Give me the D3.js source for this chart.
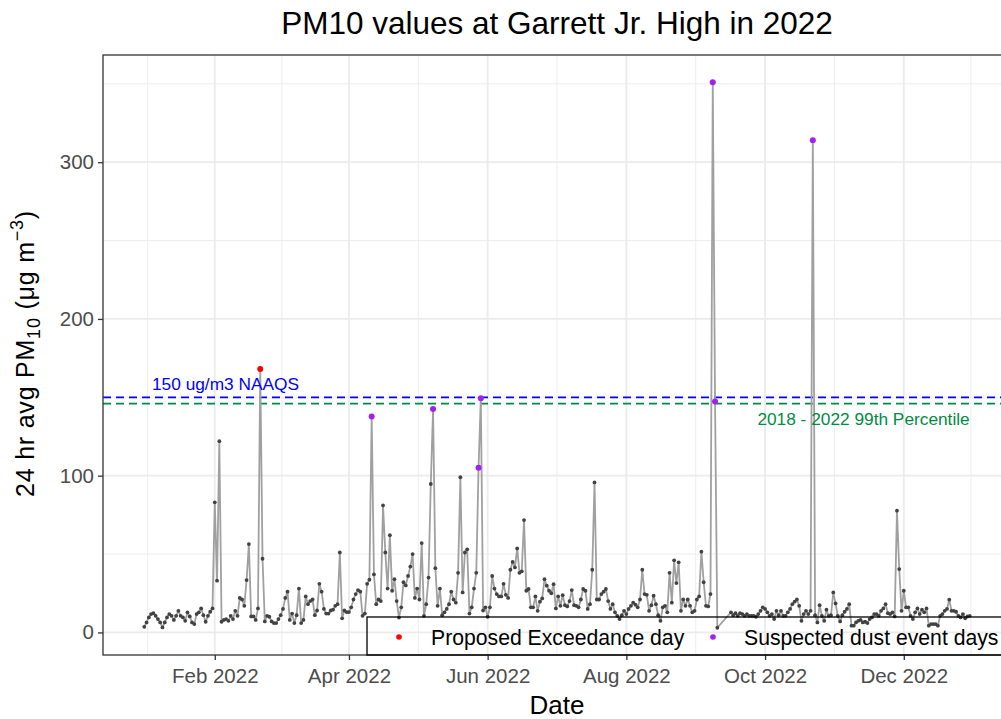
<!DOCTYPE html>
<html>
<head>
<meta charset="utf-8">
<script src="https://cdn.jsdelivr.net/npm/d3@7"></script>
<style>
  html, body { margin: 0; padding: 0; background: #ffffff; }
  svg { display: block; font-family: "Liberation Sans", Arial, sans-serif; }
</style>
</head>
<body>
<svg id="chart" width="1001" height="719"></svg>
<script>
// Daily 24-hr average PM10 (ug/m3) at Garrett Jr. High, 1 Jan 2022 .. 31 Dec 2022
// (null = no valid sample that day)
const startDate = "2022-01-01";
const pm10 = [
  // Jan
  3.6, 6.4, 9.6, 11.7, 12.3, 10.6, 8.5, 6.4, 3.2, 6.4, 9.6, 11.7, 10.6, 8, 10.6, 13.8,
  10.6, 9.6, 7.4, 12.8, 10.2, 6.4, 5.3, 11.7, 12.8, 15.3, 11, 6.8, 10.6, 13.2, 15.3,
  // Feb
  83, 33, 122, 6.8, 8, 8.5, 7.4, 10.6, 8.5, 13.8, 10.6, 22, 21, 17, 33.4, 56.4, 10.2,
  10.2, 8, 15.3, 168, 47, 7, 10.6, 10, 7, 6, 6,
  // Mar
  8.5, 11, 15, 22, 26, 8, 12, 6, 11, 28, 6, 8, 23, 18, 20, 21, 11, 14, 31, 26, 15, 12,
  12, 14, 14.5, 17, 18, 51, 9, 14, 13,
  // Apr
  13, 16, 21, 24.5, 27, 26, 10.6, 12, 31, 33.6, 137.7, 37, 18, 21, 20, 81, 51, 28, 62,
  26.6, 34, 20, 9.5, 16, 32, 30, 36, 42, 50, 22,
  // May
  28, 21, 57, 10.6, 18, 35, 94.7, 142.5, 41, 17, 28, 11, 12.8, 15, 18, 26, 21, 19, 38,
  99, 25.5, 51, 53, 12, 16, 28, 38, 105, 149.4, 14, 16,
  // Jun
  10, 16, 36, 28, 24.5, 23, 23, 31, 24, 22, 40, 45, 41.5, 53.6, 38, 39, 71.7, 26.6, 27.7,
  16, 16, 23, 13.8, 19.6, 21.7, 34, 29.8, 26.6, 25, 30.8,
  // Jul
  15.3, 23, 17, 23.8, 17.4, 16.6, 20, 27, 17.4, 17, 16, 21, 27.7, 26.6, 15, 18, 40, 95.7,
  21, 21, 24.5, 26, 27.7, 20, 15, 18, 12.8, 10.6, 8.5, 11, 13.8,
  // Aug
  11.7, 15, 17, 19, 17.7, 16, 21, 40, 24.5, 24, 13.8, 17.4, 23.4, 18, 11, 7.4, 16, 17,
  12.8, 38, 19, 46, 31.5, 44.7, 13.8, 21, 17, 21, 17, 12.8, 13.8,
  // Sep
  21, 23, 51.5, 32, 17, 16.6, 24.5, 351, 147.4, 3, null, null, null, null, null, 12.8,
  11, 12.3, 10.6, 12.3, 11.7, 10.6, 11.7, 10.6, 10.6, 10.6, 10, 11.7, 13.8, 16,
  // Oct
  15, 12.8, 10.6, 11.7, 8.5, 13.8, 11, 13.8, 10.6, 10.6, 12.8, 15, 18, 19.6, 21, 17, 7.4,
  11.7, 13.8, 11.7, 13.8, 314, 11, 6.4, 17.4, 10.6, 7.4, 14.5, 10.6, 11, 25.5,
  // Nov
  18.5, 10.6, 7, 11, 13.2, 15, 18, 4.3, 4.3, 6.4, 7.4, 8, 6.4, 6.8, 6, 8.5, 9.6, 11.7,
  11.7, 10.6, 13.8, 15.3, 18, 12.3, 11.7, 12.8, 10.2, 77.7, 40.4, 13.8,
  // Dec
  26.6, 16, 16, 10.6, 8.5, 12.8, 15.3, 11.7, 14.5, 12.8, 15.3, 4.3, 5.3, 5.3, 5.3, 4.3,
  10.6, 11.7, 13.8, 15, 20.9, 13.8, 13.8, 13.2, 10.6, 9.6, 11.7, 9, 10.2, 10.6
];

// Flagged days
const exceedanceDays = ["2022-02-21"];
const dustEventDays = ["2022-04-11", "2022-05-08", "2022-05-28", "2022-05-29",
                       "2022-09-08", "2022-09-09", "2022-10-22"];

// Reference levels
const naaqsLevel = 150;
const percentile99 = 146;

// Axis breaks and labels
const xTickDates = ["2022-02-01", "2022-04-01", "2022-06-01", "2022-08-01", "2022-10-01", "2022-12-01"];
const xTickLabels = ["Feb 2022", "Apr 2022", "Jun 2022", "Aug 2022", "Oct 2022", "Dec 2022"];
const yTicks = [0, 100, 200, 300];

const legendLabels = ["Proposed Exceedance day", "Suspected dust event days"];

// ---------------------------------------------------------------
const parse = d3.utcParse("%Y-%m-%d");
const DAY = 864e5;
const t0 = parse(startDate);
const rows = pm10
  .map((v, i) => ({ date: new Date(t0.getTime() + i * DAY), value: v }))
  .filter(d => d.value != null);
const key = d => d3.utcFormat("%Y-%m-%d")(d);
const exSet = new Set(exceedanceDays);
const dustSet = new Set(dustEventDays);

const svg = d3.select("#chart");
const panel = { left: 103, right: 1011, top: 55, bottom: 655 };

// 5% expansion on both axes
const xExt = [t0, new Date(t0.getTime() + (pm10.length - 1) * DAY)];
const xPad = (xExt[1] - xExt[0]) * 0.05;
const x = d3.scaleUtc()
  .domain([new Date(xExt[0] - xPad), new Date(+xExt[1] + xPad)])
  .range([panel.left, panel.right]);

const yExt = d3.extent(rows, d => d.value);
const yPad = (yExt[1] - yExt[0]) * 0.05;
const y = d3.scaleLinear()
  .domain([yExt[0] - yPad, yExt[1] + yPad])
  .range([panel.bottom, panel.top]);

// Title
svg.append("text")
  .attr("x", (panel.left + panel.right) / 2).attr("y", 34)
  .attr("text-anchor", "middle")
  .attr("font-size", 31.5).attr("fill", "#000")
  .text("PM10 values at Garrett Jr. High in 2022");

// Clip to panel
svg.append("defs").append("clipPath").attr("id", "panelClip")
  .append("rect")
  .attr("x", panel.left).attr("y", panel.top)
  .attr("width", panel.right - panel.left).attr("height", panel.bottom - panel.top);

const g = svg.append("g").attr("clip-path", "url(#panelClip)");

// Grid: minor then major
const majorX = xTickDates.map(parse);
const step = majorX[1] - majorX[0];
const ext = [new Date(majorX[0] - step), ...majorX, new Date(+majorX[majorX.length - 1] + step)];
const minorX = d3.pairs(ext).map(([a, b]) => new Date((+a + +b) / 2));
const minorY = yTicks.map(v => v + 50);

g.selectAll(".minx").data(minorX).join("line")
  .attr("x1", d => x(d)).attr("x2", d => x(d))
  .attr("y1", panel.top).attr("y2", panel.bottom)
  .attr("stroke", "#ebebeb").attr("stroke-width", 0.9);
g.selectAll(".miny").data(minorY).join("line")
  .attr("x1", panel.left).attr("x2", panel.right)
  .attr("y1", d => y(d)).attr("y2", d => y(d))
  .attr("stroke", "#ebebeb").attr("stroke-width", 0.9);
g.selectAll(".majx").data(majorX).join("line")
  .attr("x1", d => x(d)).attr("x2", d => x(d))
  .attr("y1", panel.top).attr("y2", panel.bottom)
  .attr("stroke", "#ebebeb").attr("stroke-width", 1.8);
g.selectAll(".majy").data(yTicks).join("line")
  .attr("x1", panel.left).attr("x2", panel.right)
  .attr("y1", d => y(d)).attr("y2", d => y(d))
  .attr("stroke", "#ebebeb").attr("stroke-width", 1.8);

// Reference lines
g.append("line")
  .attr("x1", panel.left).attr("x2", panel.right)
  .attr("y1", y(naaqsLevel)).attr("y2", y(naaqsLevel))
  .attr("stroke", "#0000ff").attr("stroke-width", 1.8).attr("stroke-dasharray", "8,5");
g.append("line")
  .attr("x1", panel.left).attr("x2", panel.right)
  .attr("y1", y(percentile99)).attr("y2", y(percentile99))
  .attr("stroke", "#008b45").attr("stroke-width", 1.8).attr("stroke-dasharray", "8,5");

// Series line and points
const line = d3.line().x(d => x(d.date)).y(d => y(d.value));
g.append("path").datum(rows)
  .attr("d", line).attr("fill", "none")
  .attr("stroke", "#a0a0a0").attr("stroke-width", 1.8).attr("stroke-linejoin", "round");
g.selectAll(".pt").data(rows).join("circle")
  .attr("cx", d => x(d.date)).attr("cy", d => y(d.value)).attr("r", 1.9)
  .attr("fill", "#424242");

const flagged = rows.filter(d => exSet.has(key(d.date)) || dustSet.has(key(d.date)));
g.selectAll(".flag").data(flagged).join("circle")
  .attr("cx", d => x(d.date)).attr("cy", d => y(d.value)).attr("r", 3)
  .attr("fill", d => exSet.has(key(d.date)) ? "#ff0000" : "#a020f0");

// Annotations
g.append("text").attr("x", 152).attr("y", 390)
  .attr("font-size", 17.3).attr("fill", "#0000ff").text("150 ug/m3 NAAQS");
g.append("text").attr("x", x(xExt[1])).attr("y", 425).attr("text-anchor", "end")
  .attr("font-size", 17.3).attr("fill", "#008b45").text("2018 - 2022 99th Percentile");

// Panel border
svg.append("rect")
  .attr("x", panel.left).attr("y", panel.top)
  .attr("width", panel.right - panel.left).attr("height", panel.bottom - panel.top)
  .attr("fill", "none").attr("stroke", "#333333").attr("stroke-width", 1.3);

// Axes
const xAxis = svg.append("g").attr("transform", `translate(0,${panel.bottom})`)
  .call(d3.axisBottom(x).tickValues(majorX).tickFormat((d, i) => xTickLabels[i]).tickSize(5).tickPadding(4));
const yAxis = svg.append("g").attr("transform", `translate(${panel.left},0)`)
  .call(d3.axisLeft(y).tickValues(yTicks).tickSize(5).tickPadding(4));
[xAxis, yAxis].forEach(a => {
  a.select(".domain").remove();
  a.selectAll(".tick line").attr("stroke", "#333333").attr("stroke-width", 1.3);
  a.selectAll(".tick text").attr("fill", "#4d4d4d").attr("font-size", 20.5)
    .attr("font-family", "Liberation Sans, Arial, sans-serif");
});
xAxis.selectAll(".tick text").attr("dy", "0.93em");

// Axis titles
svg.append("text").attr("x", (panel.left + panel.right) / 2).attr("y", 714)
  .attr("text-anchor", "middle").attr("font-size", 26).text("Date");

const yl = svg.append("text")
  .attr("transform", `translate(34,${(panel.top + panel.bottom) / 2 - 1.5}) rotate(-90)`)
  .attr("text-anchor", "middle").attr("font-size", 25);
yl.append("tspan").text("24 hr avg PM");
yl.append("tspan").attr("font-size", 18).attr("dy", 6).text("10");
yl.append("tspan").attr("dy", -6).text(" (\u03bcg m");
yl.append("tspan").attr("font-size", 18).attr("dy", -11).text("\u22123");
yl.append("tspan").attr("dy", 11).text(")");
// stretch spacing so the label spans the same length as its plotmath form
const ylLen = yl.node().getComputedTextLength();
const nChars = yl.text().length;
yl.attr("letter-spacing", Math.max(0, (287 - ylLen) / nChars));

// Legend (transparent box)
const lg = svg.append("g");
lg.append("rect").attr("x", 367).attr("y", 617).attr("width", 660).attr("height", 38)
  .attr("fill", "none").attr("stroke", "#000000").attr("stroke-width", 1.3);
const legendColors = ["#ff0000", "#a020f0"];
const legendX = [399, 713];
const legendGap = [32, 31];
legendLabels.forEach((lab, i) => {
  lg.append("circle").attr("cx", legendX[i]).attr("cy", 637).attr("r", 2.8).attr("fill", legendColors[i]);
  lg.append("text").attr("x", legendX[i] + legendGap[i]).attr("y", 644.5)
    .attr("font-size", 21.2).attr("fill", "#000").text(lab);
});
</script>
</body>
</html>
